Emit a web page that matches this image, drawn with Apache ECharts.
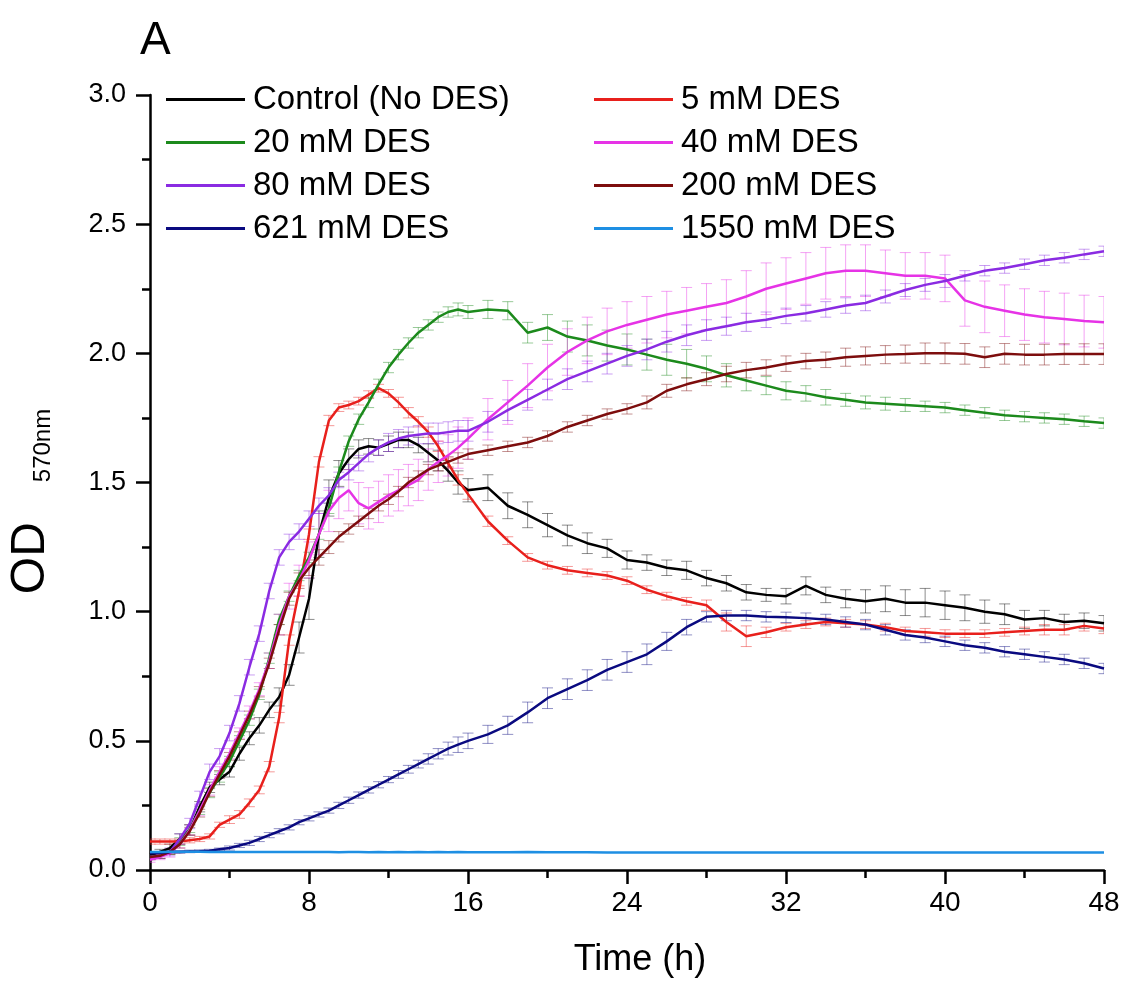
<!DOCTYPE html>
<html><head><meta charset="utf-8">
<script src="https://cdn.jsdelivr.net/npm/echarts@6/dist/echarts.min.js"></script>
<style>html,body{margin:0;padding:0;background:#fff}#c{width:1128px;height:981px}</style>
</head><body><div id="c"></div>
<script>
const time=[0,0.5,1,1.5,2,2.5,3,3.5,4,4.5,5,5.5,6,6.5,7,7.5,8,8.5,9,9.5,10,10.5,11,11.5,12,12.5,13,13.5,14,14.5,15,15.5,16,
17,18,19,20,21,22,23,24,25,26,27,28,29,30,31,32,33,34,35,36,37,38,39,40,41,42,43,44,45,46,47,48];

const control=[0.06,0.07,0.085,0.12,0.155,0.245,0.32,0.35,0.38,0.45,0.51,0.56,0.62,0.67,0.755,0.90,1.05,1.30,1.44,1.535,1.59,1.63,1.64,1.635,1.65,1.665,1.665,1.645,1.615,1.585,1.545,1.50,1.47,
1.48,1.41,1.375,1.335,1.295,1.265,1.245,1.20,1.19,1.17,1.16,1.13,1.11,1.075,1.065,1.06,1.10,1.065,1.05,1.04,1.05,1.035,1.035,1.025,1.015,1.00,0.99,0.97,0.975,0.96,0.965,0.955];
const controlErr=[0.01,0.01,0.015,0.02,0.02,0.02,0.02,0.02,0.02,0.025,0.025,0.03,0.03,0.035,0.04,0.06,0.08,0.09,0.07,0.05,0.04,0.035,0.03,0.03,0.03,0.03,0.03,0.03,0.035,0.04,0.04,0.045,0.045,
0.05,0.05,0.05,0.045,0.04,0.04,0.035,0.035,0.03,0.03,0.035,0.03,0.03,0.03,0.025,0.03,0.035,0.03,0.035,0.045,0.05,0.05,0.055,0.055,0.05,0.045,0.04,0.035,0.03,0.03,0.03,0.03];

const des5=[0.11,0.11,0.11,0.11,0.115,0.12,0.13,0.175,0.195,0.215,0.26,0.31,0.40,0.59,0.89,1.08,1.30,1.58,1.74,1.79,1.80,1.815,1.84,1.865,1.845,1.81,1.77,1.735,1.695,1.64,1.575,1.51,1.455,
1.35,1.275,1.21,1.18,1.16,1.15,1.14,1.12,1.085,1.06,1.04,1.025,0.96,0.905,0.92,0.94,0.95,0.96,0.955,0.95,0.94,0.925,0.92,0.915,0.915,0.915,0.92,0.925,0.93,0.93,0.945,0.935];
const des5Err=[0.01,0.01,0.01,0.01,0.01,0.01,0.01,0.01,0.015,0.015,0.015,0.015,0.02,0.02,0.02,0.02,0.02,0.02,0.02,0.015,0.015,0.015,0.015,0.015,0.015,0.02,0.02,0.02,0.02,0.02,0.02,0.02,0.02,
0.02,0.015,0.015,0.015,0.015,0.015,0.015,0.015,0.015,0.015,0.015,0.02,0.035,0.04,0.02,0.015,0.015,0.015,0.015,0.015,0.015,0.015,0.015,0.015,0.015,0.015,0.015,0.015,0.02,0.02,0.02,0.02];

const des20=[0.05,0.055,0.07,0.11,0.16,0.23,0.30,0.36,0.42,0.50,0.58,0.68,0.82,0.97,1.06,1.14,1.21,1.30,1.40,1.54,1.66,1.745,1.81,1.88,1.945,1.995,2.04,2.08,2.11,2.14,2.16,2.17,2.16,
2.17,2.165,2.08,2.10,2.065,2.05,2.03,2.015,1.995,1.975,1.96,1.94,1.915,1.895,1.875,1.855,1.845,1.83,1.82,1.81,1.805,1.80,1.795,1.79,1.78,1.77,1.76,1.755,1.75,1.745,1.737,1.73];
const des20Err=[0.01,0.01,0.01,0.015,0.015,0.015,0.02,0.02,0.02,0.02,0.02,0.02,0.02,0.02,0.02,0.02,0.02,0.02,0.02,0.02,0.02,0.02,0.02,0.02,0.02,0.02,0.02,0.02,0.02,0.02,0.02,0.025,0.025,
0.035,0.035,0.04,0.05,0.06,0.06,0.06,0.06,0.06,0.06,0.055,0.05,0.045,0.04,0.035,0.035,0.03,0.03,0.025,0.025,0.025,0.025,0.02,0.02,0.02,0.02,0.02,0.02,0.02,0.02,0.02,0.02];

const des40=[0.04,0.05,0.065,0.10,0.155,0.23,0.31,0.38,0.45,0.53,0.61,0.70,0.81,0.95,1.06,1.12,1.20,1.30,1.39,1.44,1.47,1.42,1.40,1.425,1.45,1.47,1.49,1.51,1.55,1.58,1.605,1.635,1.67,
1.745,1.81,1.875,1.945,2.005,2.05,2.085,2.11,2.13,2.15,2.165,2.18,2.195,2.22,2.25,2.27,2.29,2.31,2.32,2.32,2.31,2.30,2.30,2.29,2.205,2.18,2.165,2.15,2.14,2.133,2.125,2.12];
const des40Err=[0.01,0.01,0.015,0.015,0.02,0.02,0.02,0.02,0.02,0.02,0.025,0.025,0.03,0.04,0.05,0.06,0.07,0.08,0.08,0.08,0.08,0.08,0.08,0.08,0.08,0.08,0.08,0.08,0.08,0.08,0.08,0.08,0.08,
0.08,0.085,0.085,0.09,0.09,0.09,0.09,0.09,0.09,0.09,0.09,0.09,0.09,0.1,0.1,0.1,0.1,0.1,0.1,0.1,0.09,0.09,0.09,0.09,0.1,0.1,0.1,0.1,0.1,0.1,0.1,0.1];

const des80=[0.05,0.055,0.07,0.12,0.18,0.28,0.38,0.44,0.53,0.645,0.785,0.915,1.08,1.21,1.27,1.31,1.36,1.41,1.45,1.51,1.54,1.575,1.61,1.635,1.655,1.67,1.68,1.685,1.69,1.69,1.695,1.70,1.70,
1.735,1.78,1.82,1.86,1.90,1.93,1.96,1.99,2.015,2.045,2.07,2.09,2.105,2.12,2.13,2.145,2.155,2.17,2.185,2.195,2.22,2.245,2.265,2.28,2.30,2.32,2.33,2.345,2.36,2.37,2.383,2.395];
const des80Err=[0.01,0.01,0.015,0.02,0.02,0.025,0.03,0.03,0.03,0.03,0.03,0.03,0.03,0.03,0.03,0.03,0.03,0.03,0.03,0.03,0.03,0.03,0.03,0.03,0.035,0.035,0.035,0.035,0.04,0.04,0.04,0.04,0.04,
0.04,0.04,0.04,0.04,0.04,0.04,0.04,0.04,0.04,0.04,0.04,0.04,0.035,0.035,0.03,0.03,0.03,0.03,0.03,0.03,0.025,0.025,0.025,0.025,0.02,0.02,0.02,0.02,0.02,0.02,0.02,0.02];

const des200=[0.05,0.055,0.07,0.10,0.15,0.22,0.30,0.37,0.44,0.52,0.60,0.69,0.80,0.93,1.05,1.12,1.17,1.21,1.25,1.29,1.32,1.35,1.38,1.41,1.435,1.465,1.50,1.525,1.55,1.565,1.58,1.595,1.61,
1.625,1.64,1.655,1.68,1.715,1.74,1.765,1.785,1.81,1.855,1.88,1.90,1.92,1.935,1.945,1.96,1.97,1.975,1.985,1.99,1.995,1.997,2.0,2.0,1.998,1.985,1.998,1.995,1.995,1.997,1.997,1.997];
const des200Err=[0.01,0.01,0.01,0.015,0.015,0.015,0.015,0.015,0.015,0.015,0.015,0.02,0.02,0.02,0.025,0.03,0.03,0.03,0.025,0.02,0.02,0.02,0.02,0.02,0.02,0.02,0.02,0.02,0.02,0.02,0.02,0.02,0.02,
0.02,0.02,0.02,0.02,0.02,0.02,0.02,0.02,0.025,0.025,0.025,0.025,0.03,0.03,0.03,0.03,0.03,0.03,0.035,0.035,0.035,0.035,0.04,0.04,0.04,0.04,0.04,0.04,0.04,0.04,0.04,0.04];

const des621=[0.065,0.067,0.07,0.07,0.072,0.073,0.075,0.08,0.085,0.095,0.105,0.12,0.135,0.15,0.165,0.185,0.20,0.215,0.23,0.25,0.27,0.29,0.31,0.33,0.35,0.37,0.39,0.41,0.43,0.45,0.47,0.485,0.50,
0.525,0.56,0.61,0.665,0.70,0.735,0.775,0.805,0.835,0.885,0.94,0.98,0.985,0.985,0.98,0.978,0.975,0.97,0.96,0.95,0.93,0.91,0.90,0.885,0.87,0.86,0.845,0.835,0.825,0.815,0.80,0.78];
const des621Err=[0.005,0.005,0.005,0.005,0.005,0.005,0.005,0.005,0.008,0.008,0.01,0.01,0.01,0.01,0.01,0.01,0.01,0.01,0.01,0.012,0.012,0.012,0.012,0.012,0.012,0.015,0.015,0.015,0.02,0.02,0.025,0.03,0.03,
0.035,0.035,0.04,0.04,0.04,0.04,0.04,0.04,0.04,0.035,0.03,0.02,0.02,0.02,0.02,0.02,0.02,0.02,0.02,0.02,0.02,0.02,0.02,0.02,0.02,0.02,0.02,0.02,0.02,0.02,0.02,0.02];

const des1550=[0.07,0.07,0.071,0.071,0.071,0.071,0.07,0.07,0.07,0.07,0.07,0.07,0.07,0.07,0.07,0.07,0.07,0.07,0.07,0.069,0.07,0.07,0.069,0.07,0.069,0.07,0.069,0.07,0.069,0.07,0.069,0.07,0.069,
0.069,0.069,0.07,0.069,0.069,0.069,0.068,0.068,0.068,0.068,0.068,0.068,0.068,0.068,0.068,0.068,0.068,0.068,0.068,0.068,0.068,0.068,0.068,0.068,0.068,0.068,0.068,0.068,0.068,0.068,0.068,0.068];

const names=['Control (No DES)','5 mM DES','20 mM DES','40 mM DES','80 mM DES','200 mM DES','621 mM DES','1550 mM DES'];
const colors=['#000000','#e8201c','#1c8a1c','#e633e6','#8a2be2','#7d0d0d','#0a0a80','#1e8fe3'];
const values=[control,des5,des20,des40,des80,des200,des621,des1550];
const errors=[controlErr,des5Err,des20Err,des40Err,des80Err,des200Err,des621Err,null];
const xTickLabels=['0','8','16','24','32','40','48'];
const yTickLabels=['0.0','0.5','1.0','1.5','2.0','2.5','3.0'];

function hexToRgba(h,a){const r=parseInt(h.slice(1,3),16),g=parseInt(h.slice(3,5),16),b=parseInt(h.slice(5,7),16);return 'rgba('+r+','+g+','+b+','+a+')';}

const series=[];
values.forEach((vals,i)=>{
  if(errors[i]){
    const col=hexToRgba(colors[i],0.45);
    series.push({
      type:'custom', name:names[i]+' err', silent:true, clip:true, z:1,
      encode:{x:0,y:1},
      data:time.map((t,k)=>[t,vals[k],errors[i][k]]),
      renderItem:function(params,api){
        const x=api.value(0), y=api.value(1), e=api.value(2);
        const top=api.coord([x,y+e]), bot=api.coord([x,y-e]);
        const hw=5.5;
        const st={stroke:col,lineWidth:1,fill:null};
        return {type:'group',children:[
          {type:'line',shape:{x1:top[0],y1:top[1],x2:bot[0],y2:bot[1]},style:st},
          {type:'line',shape:{x1:top[0]-hw,y1:top[1],x2:top[0]+hw,y2:top[1]},style:st},
          {type:'line',shape:{x1:bot[0]-hw,y1:bot[1],x2:bot[0]+hw,y2:bot[1]},style:st}
        ]};
      }
    });
  }
});
values.forEach((vals,i)=>{
  series.push({
    type:'line', name:names[i], showSymbol:false, symbol:'none', z:3,
    data:time.map((t,k)=>[t,vals[k]]),
    lineStyle:{color:colors[i],width:2.5}, itemStyle:{color:colors[i]}
  });
});

const font='"Liberation Sans", Arial, sans-serif';
const legendBase={orient:'vertical',padding:0,itemWidth:79,itemHeight:3,itemGap:10,icon:'rect',selectedMode:false,
  textStyle:{fontSize:33,fontFamily:font,color:'#000',padding:[0,0,0,3]}};

const chart=echarts.init(document.getElementById('c'));
chart.setOption({
  animation:false,
  backgroundColor:'#fff',
  textStyle:{fontFamily:font},
  title:{text:'A',left:140,top:18,padding:0,textStyle:{fontSize:46,fontWeight:'normal',color:'#000',fontFamily:font}},
  legend:[
    Object.assign({},legendBase,{left:166,top:83,data:[names[0],names[2],names[4],names[6]]}),
    Object.assign({},legendBase,{left:594,top:83,data:[names[1],names[3],names[5],names[7]]})
  ],
  grid:{left:150,right:24,top:95,bottom:111,containLabel:false,outerBoundsMode:'none'},
  xAxis:{type:'value',min:0,max:48,interval:8,
    axisLine:{show:true,onZero:false,lineStyle:{color:'#000',width:2.5}},
    axisTick:{show:true,inside:false,length:14,lineStyle:{color:'#000',width:2.5}},
    minorTick:{show:true,splitNumber:2,length:8,lineStyle:{color:'#000',width:2.5}},
    splitLine:{show:false},minorSplitLine:{show:false},
    axisLabel:{fontSize:28,color:'#000',margin:19,formatter:v=>xTickLabels[Math.round(v/8)]},
    name:'Time (h)',nameLocation:'middle',nameGap:72,
    nameTextStyle:{fontSize:36,color:'#000',padding:[0,0,0,26]}
  },
  yAxis:{type:'value',min:0,max:3,interval:0.5,
    axisLine:{show:true,lineStyle:{color:'#000',width:2.5}},
    axisTick:{show:true,inside:false,length:14,lineStyle:{color:'#000',width:2.5}},
    minorTick:{show:true,splitNumber:2,length:8,lineStyle:{color:'#000',width:2.5}},
    splitLine:{show:false},minorSplitLine:{show:false},
    axisLabel:{fontSize:27,color:'#000',margin:24,formatter:v=>yTickLabels[Math.round(v/0.5)]},
    name:'{a|OD}{b|570nm}',nameLocation:'middle',nameRotate:90,nameGap:95,
    nameTextStyle:{color:'#000',rich:{
      a:{fontSize:48,color:'#000',fontFamily:font},
      b:{fontSize:24,color:'#000',fontFamily:font,verticalAlign:'bottom',padding:[0,38,0,40]}
    }}
  },
  series:series
});
</script></body></html>
